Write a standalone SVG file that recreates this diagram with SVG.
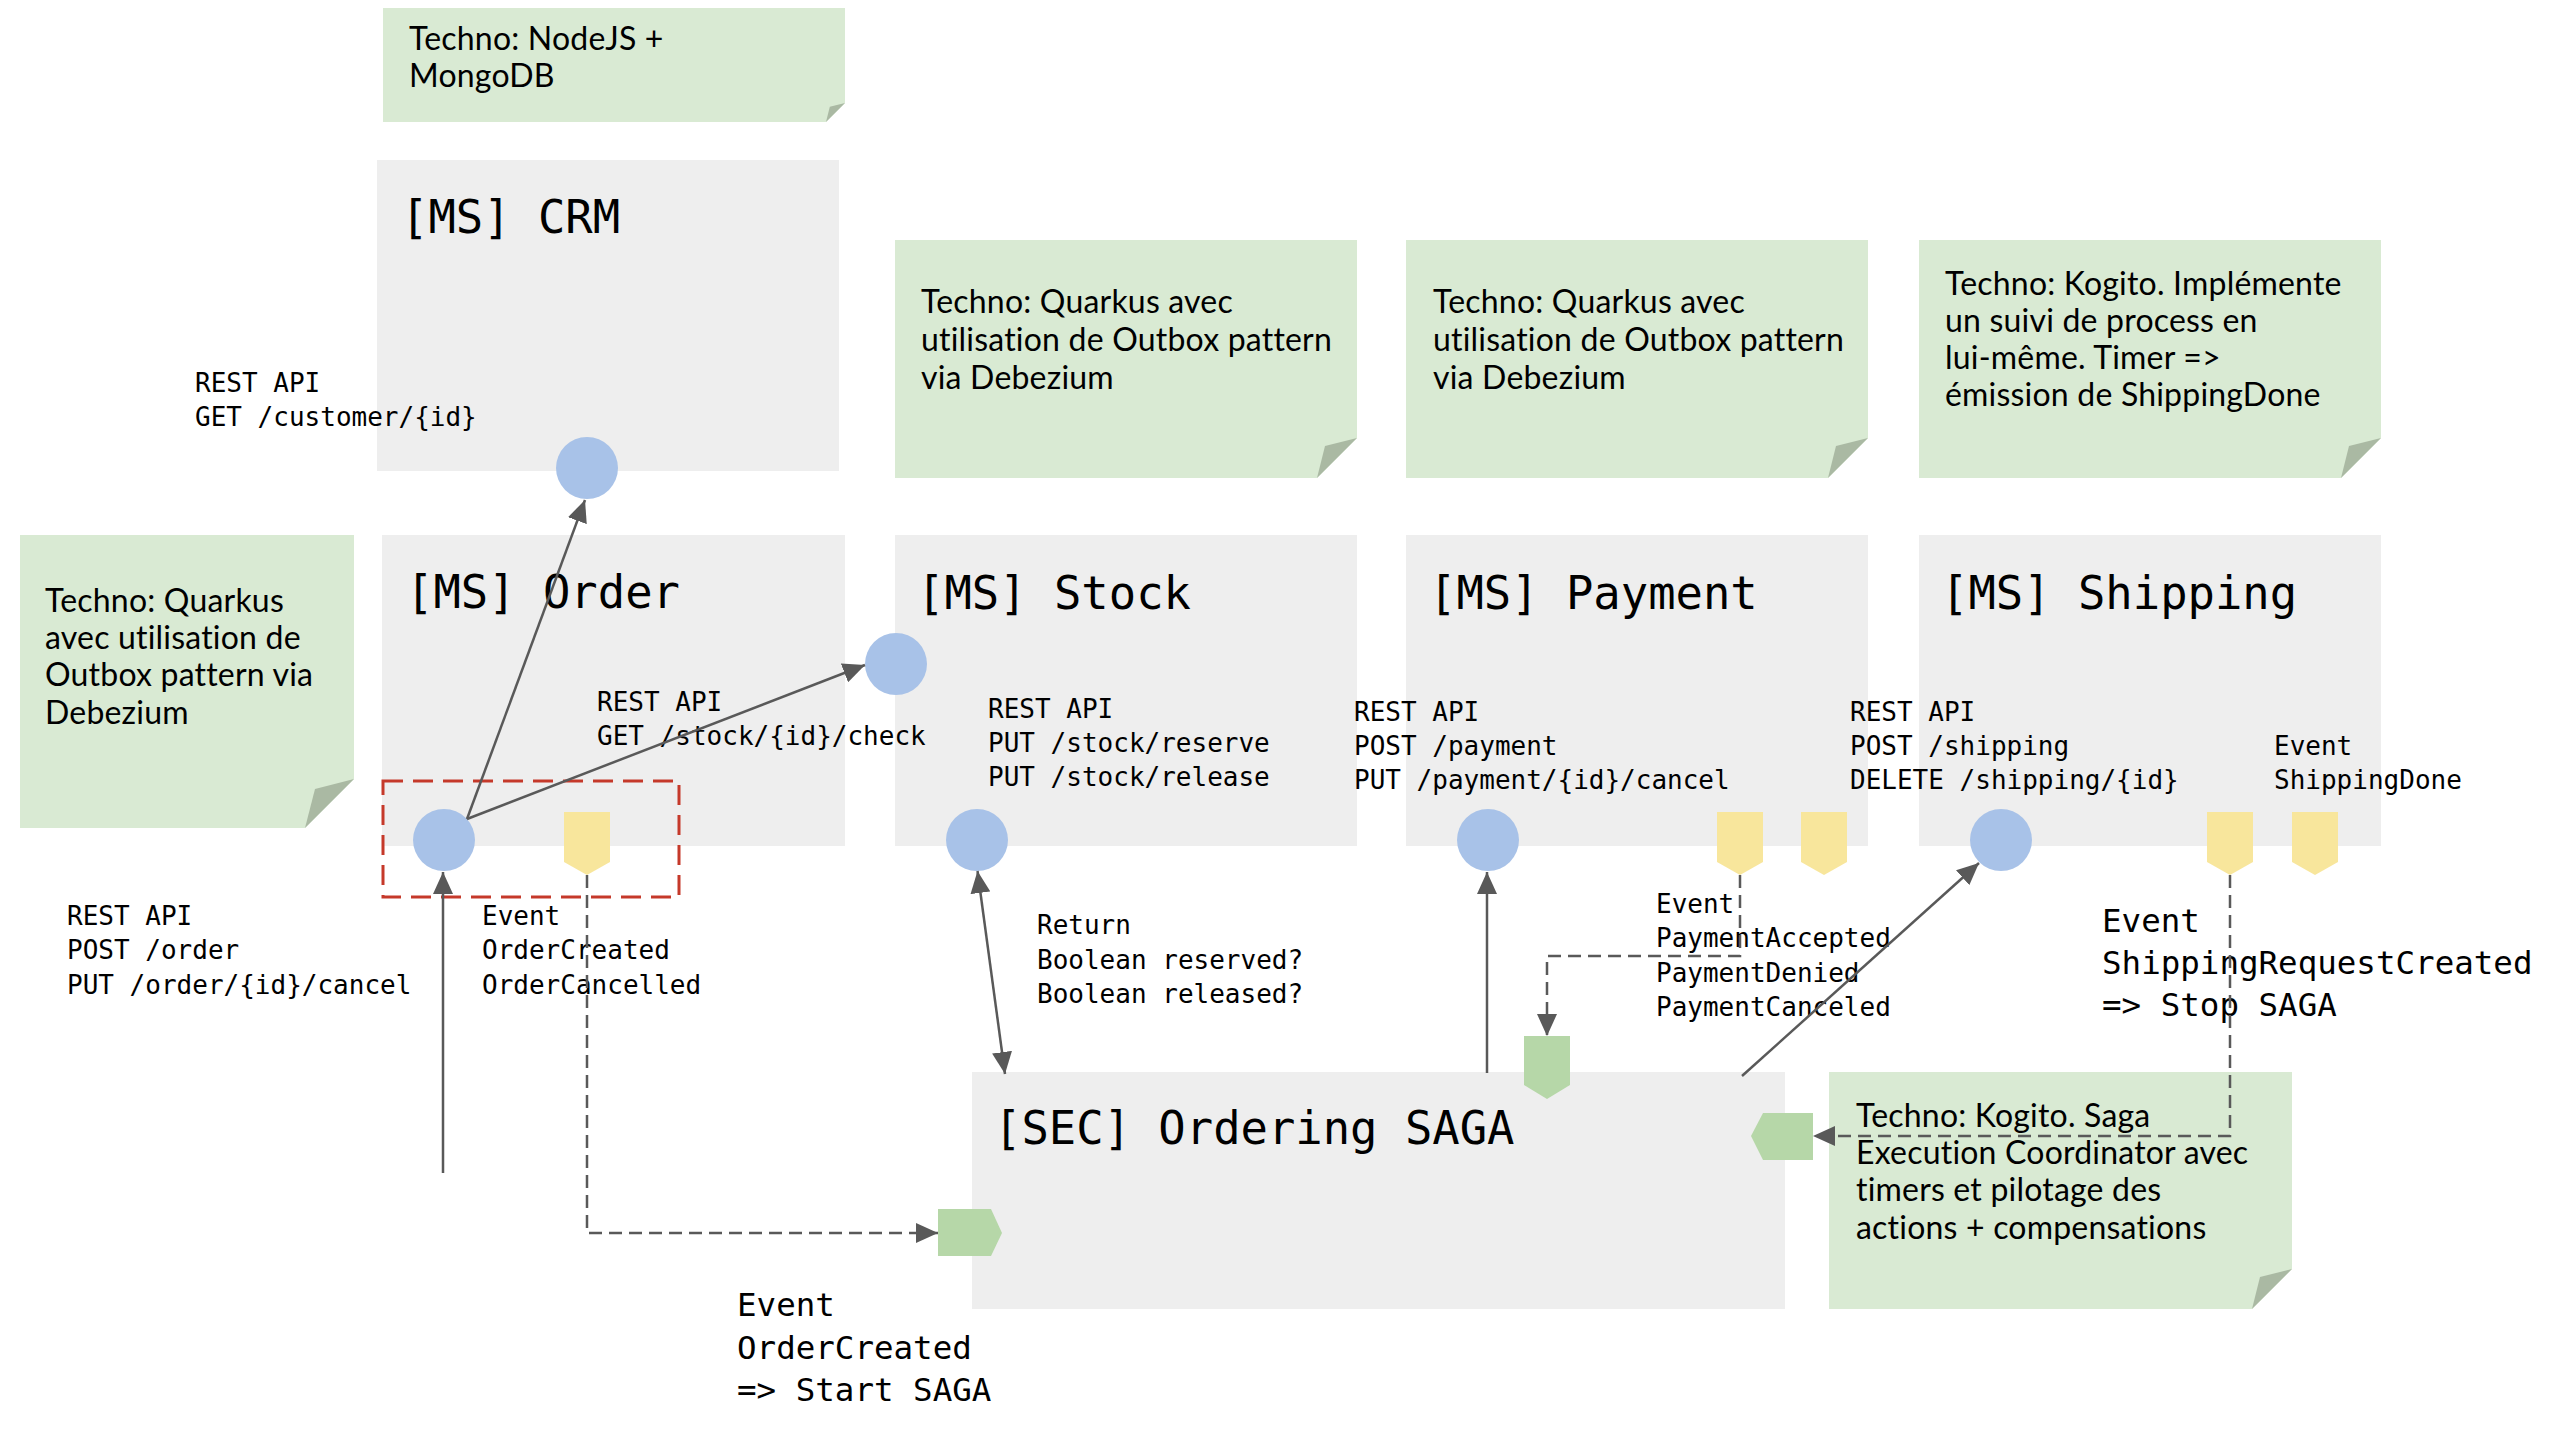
<svg xmlns="http://www.w3.org/2000/svg" width="2558" height="1437" viewBox="0 0 2558 1437">
<defs>
<style>
.box{fill:#eeeeee}
.note{fill:#d9ead3}
.fold{fill:#aab9a3}
.api{fill:#a8c2e8}
.evt{fill:#f8e69c}
.in{fill:#b6d7a8}
.title{font-family:"DejaVu Sans Mono",monospace;font-size:45.5px;fill:#000}
.lbl{font-family:"DejaVu Sans Mono",monospace;font-size:26px;fill:#000}
.big{font-family:"DejaVu Sans Mono",monospace;font-size:32.5px;fill:#000}
.nt{font-family:Lato,"Liberation Sans",sans-serif;font-size:32px;letter-spacing:0.2px;fill:#000}
.ln{fill:none;stroke:#595959;stroke-width:2.5}
.dash{fill:none;stroke:#595959;stroke-width:2.5;stroke-dasharray:13 7}
</style>
<marker id="ah" markerWidth="22" markerHeight="20" refX="22" refY="10" orient="auto-start-reverse" markerUnits="userSpaceOnUse"><path d="M0,0 L22,10 L0,20 Z" fill="#595959"/></marker>
</defs>
<rect width="2558" height="1437" fill="#ffffff"/>

<g id="note-crm">
<path class="note" d="M383,8 H845 V103 L826,122 H383 Z"/>
<path class="fold" d="M826,122 L829.8,106.8 L845,103 Z"/>
<text class="nt" x="409" y="50">Techno: NodeJS +</text>
<text class="nt" x="409" y="87">MongoDB</text>
</g>

<g id="ms-crm">
<rect class="box" x="377" y="160" width="462" height="311"/>
<text class="title" x="401" y="233">[MS] CRM</text>
<circle class="api" cx="587" cy="468" r="31"/>
<text class="lbl" x="195" y="392">REST API</text>
<text class="lbl" x="195" y="426">GET /customer/{id}</text>
</g>

<g id="note-order">
<path class="note" d="M20,535 H354 V779 L305,828 H20 Z"/>
<path class="fold" d="M305,828 L315,789 L354,779 Z"/>
<text class="nt" x="45" y="612">Techno: Quarkus</text>
<text class="nt" x="45" y="649">avec utilisation de</text>
<text class="nt" x="45" y="686">Outbox pattern via</text>
<text class="nt" x="45" y="724">Debezium</text>
</g>

<g id="ms-order">
<rect class="box" x="382" y="535" width="463" height="311"/>
<text class="title" x="406" y="608">[MS] Order</text>
<rect x="383" y="781" width="296" height="116" fill="none" stroke="#c5392a" stroke-width="3" stroke-dasharray="20 10"/>
<circle class="api" cx="444" cy="840" r="31"/>
<path class="evt" d="M564,812 H610 V862 L587,875 L564,862 Z"/>
<text class="lbl" x="67" y="925">REST API</text>
<text class="lbl" x="67" y="959">POST /order</text>
<text class="lbl" x="67" y="994">PUT /order/{id}/cancel</text>
<text class="lbl" x="482" y="925">Event</text>
<text class="lbl" x="482" y="959">OrderCreated</text>
<text class="lbl" x="482" y="994">OrderCancelled</text>
</g>

<g id="note-stock">
<path class="note" d="M895,240 H1357 V438 L1317,478 H895 Z"/>
<path class="fold" d="M1317,478 L1325,446 L1357,438 Z"/>
<text class="nt" x="921" y="313">Techno: Quarkus avec</text>
<text class="nt" x="921" y="351">utilisation de Outbox pattern</text>
<text class="nt" x="921" y="389">via Debezium</text>
</g>

<g id="ms-stock">
<rect class="box" x="895" y="535" width="462" height="311"/>
<text class="title" x="917" y="609">[MS] Stock</text>
<circle class="api" cx="896" cy="664" r="31"/>
<circle class="api" cx="977" cy="840" r="31"/>
<text class="lbl" x="597" y="711">REST API</text>
<text class="lbl" x="597" y="745">GET /stock/{id}/check</text>
<text class="lbl" x="988" y="718">REST API</text>
<text class="lbl" x="988" y="752">PUT /stock/reserve</text>
<text class="lbl" x="988" y="786">PUT /stock/release</text>
<text class="lbl" x="1037" y="934">Return</text>
<text class="lbl" x="1037" y="969">Boolean reserved?</text>
<text class="lbl" x="1037" y="1003">Boolean released?</text>
</g>

<g id="note-payment">
<path class="note" d="M1406,240 H1868 V438 L1828,478 H1406 Z"/>
<path class="fold" d="M1828,478 L1836,446 L1868,438 Z"/>
<text class="nt" x="1433" y="313">Techno: Quarkus avec</text>
<text class="nt" x="1433" y="351">utilisation de Outbox pattern</text>
<text class="nt" x="1433" y="389">via Debezium</text>
</g>

<g id="ms-payment">
<rect class="box" x="1406" y="535" width="462" height="311"/>
<text class="title" x="1429" y="609">[MS] Payment</text>
<circle class="api" cx="1488" cy="840" r="31"/>
<path class="evt" d="M1717,812 H1763 V862 L1740,875 L1717,862 Z"/>
<path class="evt" d="M1801,812 H1847 V862 L1824,875 L1801,862 Z"/>
<text class="lbl" x="1354" y="721">REST API</text>
<text class="lbl" x="1354" y="755">POST /payment</text>
<text class="lbl" x="1354" y="789">PUT /payment/{id}/cancel</text>
<text class="lbl" x="1656" y="913">Event</text>
<text class="lbl" x="1656" y="947">PaymentAccepted</text>
<text class="lbl" x="1656" y="982">PaymentDenied</text>
<text class="lbl" x="1656" y="1016">PaymentCanceled</text>
</g>

<g id="note-shipping">
<path class="note" d="M1919,240 H2381 V438 L2341,478 H1919 Z"/>
<path class="fold" d="M2341,478 L2349,446 L2381,438 Z"/>
<text class="nt" x="1945" y="295">Techno: Kogito. Implémente</text>
<text class="nt" x="1945" y="332">un suivi de process en</text>
<text class="nt" x="1945" y="369">lui-même. Timer =&gt;</text>
<text class="nt" x="1945" y="406">émission de ShippingDone</text>
</g>

<g id="ms-shipping">
<rect class="box" x="1919" y="535" width="462" height="311"/>
<text class="title" x="1941" y="609">[MS] Shipping</text>
<circle class="api" cx="2001" cy="840" r="31"/>
<path class="evt" d="M2207,812 H2253 V862 L2230,875 L2207,862 Z"/>
<path class="evt" d="M2292,812 H2338 V862 L2315,875 L2292,862 Z"/>
<text class="lbl" x="1850" y="721">REST API</text>
<text class="lbl" x="1850" y="755">POST /shipping</text>
<text class="lbl" x="1850" y="789">DELETE /shipping/{id}</text>
<text class="lbl" x="2274" y="755">Event</text>
<text class="lbl" x="2274" y="789">ShippingDone</text>
<text class="big" x="2102" y="932">Event</text>
<text class="big" x="2102" y="974">ShippingRequestCreated</text>
<text class="big" x="2102" y="1016">=&gt; Stop SAGA</text>
</g>

<g id="sec-saga">
<rect class="box" x="972" y="1072" width="813" height="237"/>
<text class="title" x="994" y="1144">[SEC] Ordering SAGA</text>
<path class="in" d="M938,1209 H991 L1002,1233 L991,1256 H938 Z"/>
<path class="in" d="M1524,1036 H1570 V1085 L1547,1099 L1524,1085 Z"/>
<path class="in" d="M1813,1113 H1763 L1751,1136 L1763,1160 H1813 Z"/>
<text class="big" x="737" y="1316">Event</text>
<text class="big" x="737" y="1359">OrderCreated</text>
<text class="big" x="737" y="1401">=&gt; Start SAGA</text>
</g>

<g id="note-saga">
<path class="note" d="M1829,1072 H2292 V1269 L2252,1309 H1829 Z"/>
<path class="fold" d="M2252,1309 L2260,1277 L2292,1269 Z"/>
<text class="nt" x="1856" y="1127">Techno: Kogito. Saga</text>
<text class="nt" x="1856" y="1164">Execution Coordinator avec</text>
<text class="nt" x="1856" y="1201">timers et pilotage des</text>
<text class="nt" x="1856" y="1239">actions + compensations</text>
</g>

<g id="connectors">
<line class="ln" x1="467" y1="819" x2="585" y2="500" marker-end="url(#ah)"/>
<line class="ln" x1="467" y1="819" x2="865" y2="665" marker-end="url(#ah)"/>
<line class="ln" x1="443" y1="1173" x2="443" y2="872" marker-end="url(#ah)"/>
<path class="dash" d="M587,875 V1233 H938" marker-end="url(#ah)"/>
<line class="ln" x1="977.5" y1="871" x2="1005" y2="1074" marker-start="url(#ah)" marker-end="url(#ah)"/>
<line class="ln" x1="1487" y1="1073" x2="1487" y2="872" marker-end="url(#ah)"/>
<path class="dash" d="M1740,875 V956 H1547 V1036" marker-end="url(#ah)"/>
<line class="ln" x1="1742" y1="1076" x2="1979" y2="863" marker-end="url(#ah)"/>
<path class="dash" d="M2230,875 V1136 H1813" marker-end="url(#ah)"/>
</g>
</svg>
